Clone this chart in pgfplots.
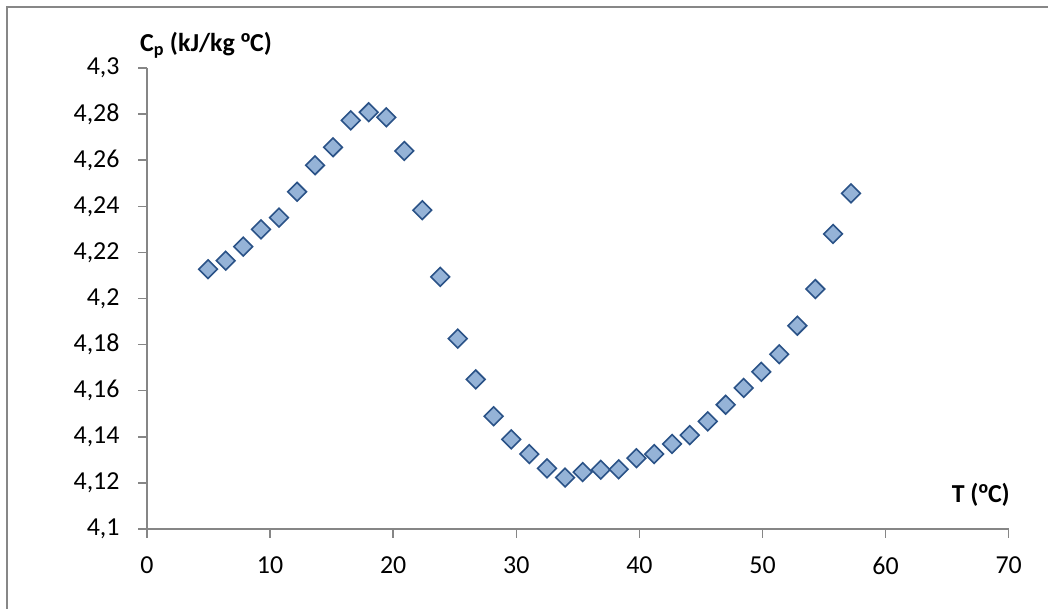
\documentclass[border=0pt]{standalone}
\usepackage{fontspec}
\setmainfont{Carlito}
\newfontfamily\ordfont{Liberation Sans}
\usepackage{pgfplots}
\pgfplotsset{compat=1.18}
\definecolor{axgray}{HTML}{868686}
\definecolor{framegray}{HTML}{878787}
\definecolor{mfill}{HTML}{95B3D7}
\definecolor{mdraw}{HTML}{2A5287}
\newcommand{\ordm}{{\ordfont º}}
\begin{document}
\begin{tikzpicture}[x=1bp,y=1bp]
\useasboundingbox (0,0) rectangle (1048,609);
\draw[framegray, line width=2bp] (6.7,-5) -- (6.7,601.5) -- (1060,601.5);
\begin{axis}[
  at={(147bp,80bp)}, anchor=south west,
  scale only axis, width=861.7bp, height=461bp,
  xmin=0, xmax=70, ymin=4.1, ymax=4.3,
  axis lines=left,
  axis line style={-, draw=axgray, line width=1.5bp},
  xtick={0,10,20,30,40,50,60,70},
  ytick={4.1,4.12,4.14,4.16,4.18,4.2,4.22,4.24,4.26,4.28,4.3},
  tick align=outside,
  major tick length=9bp,
  tick style={draw=axgray, line width=1.5bp},
  /pgf/number format/assume math mode=true,
  /pgf/number format/use comma,
  /pgf/number format/precision=2,
  tick label style={font=\fontsize{26}{30}\selectfont, text=black},
  yticklabel style={xshift=-15bp},
  xticklabel style={yshift=-15bp},
  clip=false,
]
\addplot[only marks, mark=square*, mark size=6.6bp,
  mark options={rotate=45, fill=mfill, draw=mdraw, line width=1.6bp}]
coordinates {
(4.96,4.2127) (6.39,4.2164) (7.82,4.2225) (9.26,4.2300) (10.72,4.2351)
(12.19,4.2463) (13.65,4.2578) (15.11,4.2656) (16.55,4.2773) (18.01,4.2808)
(19.44,4.2786) (20.90,4.2640) (22.36,4.2383) (23.82,4.2094) (25.24,4.1826)
(26.70,4.1649) (28.16,4.1489) (29.59,4.1389) (31.06,4.1325) (32.49,4.1263)
(33.96,4.1223) (35.39,4.1247) (36.86,4.1257) (38.32,4.1259) (39.76,4.1307)
(41.20,4.1325) (42.65,4.1369) (44.09,4.1407) (45.55,4.1467) (47.01,4.1539)
(48.47,4.1612) (49.90,4.1682) (51.36,4.1758) (52.83,4.1882) (54.29,4.2041)
(55.73,4.2280) (57.19,4.2456)
};
\end{axis}
\node[anchor=base west, inner sep=0pt, font=\fontsize{26}{30}\selectfont\bfseries] at (140,557) {C\textsubscript{p} (kJ/kg \ordm C)};
\node[anchor=base east, inner sep=0pt, font=\fontsize{26}{30}\selectfont\bfseries] at (1010,106) {T (\ordm C)};
\end{tikzpicture}
\end{document}
